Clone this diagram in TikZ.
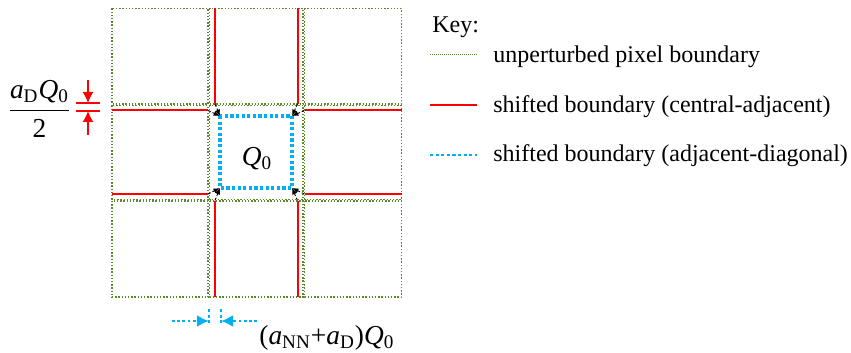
\documentclass[tikz,border=0pt]{standalone}
\usepackage{fontspec}
\setmainfont{Liberation Serif}
\usetikzlibrary{arrows.meta}
\definecolor{pixgreen}{HTML}{5A8A2A}
\definecolor{skyblue}{HTML}{00B0F0}

\begin{document}
\begin{tikzpicture}[x=0.5pt,y=-0.5pt,
  pix/.style={draw=pixgreen,line width=0.7pt,dash pattern=on 0.7pt off 0.9pt},
  redline/.style={draw=red,line width=1pt},
  blueline/.style={draw=skyblue,line width=1.6pt,dash pattern=on 1.6pt off 1.2pt},
  nudge/.style={draw=black,line width=0.45pt,dash pattern=on 1.5pt off 1pt,-{Latex[length=3.2pt,width=2.6pt]}},
  redarrow/.style={draw=red,line width=0.7pt,-{Latex[length=5.5pt,width=5.5pt]}},
  bluearrow/.style={draw=skyblue,line width=1.4pt,dash pattern=on 1.4pt off 1.2pt,-{Latex[length=6pt,width=6pt]}},
  txt/.style={font=\fontsize{12}{14}\selectfont,inner sep=0pt},
  bigtxt/.style={font=\fontsize{13.7}{16}\selectfont,inner sep=0pt},
]
\useasboundingbox (0,0) rectangle (851,353);
\draw[pix] (112,8.5) rectangle (208,104);
\draw[pix] (209.5,8.5) rectangle (303,104);
\draw[pix] (304.5,8.5) rectangle (401.5,104);
\draw[pix] (112,105.5) rectangle (208,199.5);
\draw[pix] (209.5,105.5) rectangle (303,199.5);
\draw[pix] (304.5,105.5) rectangle (401.5,199.5);
\draw[pix] (112,201) rectangle (208,297);
\draw[pix] (209.5,201) rectangle (303,297);
\draw[pix] (304.5,201) rectangle (401.5,297);
\coordinate (nl) at (215,104);
\coordinate (nr) at (297.5,104);
\coordinate (sl) at (215,200.5);
\coordinate (sr) at (297.5,200.5);
\coordinate (wt) at (208,110.5);
\coordinate (wb) at (208,194);
\coordinate (et) at (304.5,110.5);
\coordinate (eb) at (304.5,194);
\draw[redline] (215,8.5) -- (nl);
\draw[redline] (297.5,8.5) -- (nr);
\draw[redline] (sl) -- (215,297);
\draw[redline] (sr) -- (297.5,297);
\draw[redline] (112,110.5) -- (wt);
\draw[redline] (112,194) -- (wb);
\draw[redline] (et) -- (401.5,110.5);
\draw[redline] (eb) -- (401.5,194);
\coordinate (qtl) at (220,116);
\coordinate (qtr) at (292,116);
\coordinate (qbl) at (220,188);
\coordinate (qbr) at (292,188);
\draw[blueline] (qtl) rectangle (qbr);
\node[bigtxt,anchor=base] (q) at (257,165) {\textit{Q}\textsubscript{0}};
\draw[nudge] (nl) -- (qtl);
\draw[nudge] (wt) -- (qtl);
\draw[nudge] (nr) -- (qtr);
\draw[nudge] (et) -- (qtr);
\draw[nudge] (sl) -- (qbl);
\draw[nudge] (wb) -- (qbl);
\draw[nudge] (sr) -- (qbr);
\draw[nudge] (eb) -- (qbr);
\node[bigtxt,anchor=base] (half) at (39.5,118) {$\displaystyle\frac{\mbox{\textit{a}\textsubscript{D}\textit{Q}\textsubscript{0}}}{\mbox{2}}$};
\coordinate (ha) at (76,103);
\coordinate (hb) at (100,103);
\coordinate (hc) at (76,111);
\coordinate (hd) at (100,111);
\draw[draw=red,line width=0.8pt] (ha) -- (hb);
\draw[draw=red,line width=0.8pt] (hc) -- (hd);
\draw[redarrow] (88,80) -- (88,103);
\draw[redarrow] (88,135) -- (88,111);
\coordinate (ga) at (209,309);
\coordinate (gb) at (209,323);
\coordinate (gc) at (221,309);
\coordinate (gd) at (221,323);
\draw[blueline,line width=1.4pt] (ga) -- (gb);
\draw[blueline,line width=1.4pt] (gc) -- (gd);
\draw[bluearrow] (172,321) -- (209,321);
\draw[bluearrow] (257,321) -- (221,321);
\node[bigtxt,anchor=base west] (gap) at (259,344) {(\textit{a}\textsubscript{NN}+\textit{a}\textsubscript{D})\textit{Q}\textsubscript{0}};
\node[txt,anchor=base west] (key) at (432,33) {Key:};
\coordinate (k1a) at (430,55);
\coordinate (k1b) at (477,55);
\coordinate (k2a) at (430,105);
\coordinate (k2b) at (477,105);
\coordinate (k3a) at (430,155);
\coordinate (k3b) at (477,155);
\draw[pix,line width=0.5pt,dash pattern=on 0.5pt off 0.5pt] (k1a) -- (k1b);
\draw[redline,line width=0.7pt] (k2a) -- (k2b);
\draw[blueline,line width=1.3pt] (k3a) -- (k3b);
\node[txt,anchor=base west] (k1) at (493,63) {unperturbed pixel boundary};
\node[txt,anchor=base west] (k2) at (493,112.5) {shifted boundary (central-adjacent)};
\node[txt,anchor=base west] (k3) at (493,162) {shifted boundary (adjacent-diagonal)};
\end{tikzpicture}
\end{document}
